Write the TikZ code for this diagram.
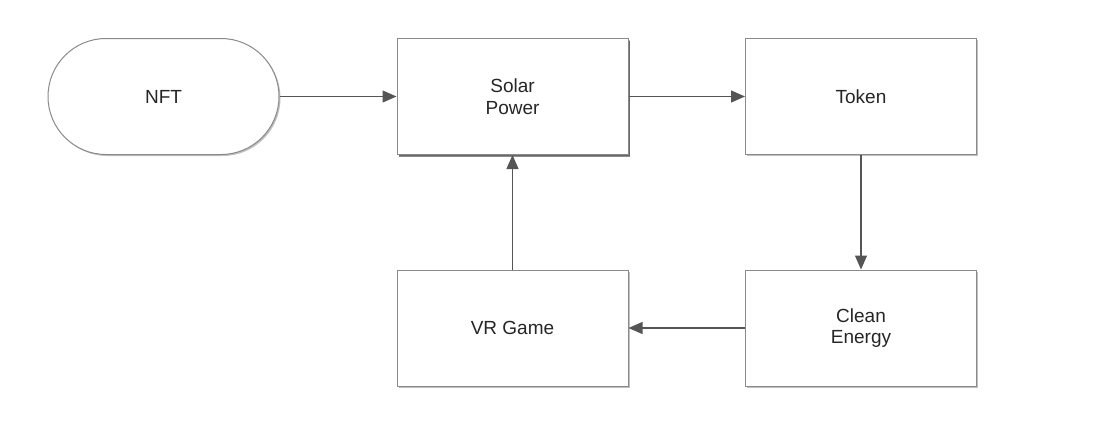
\documentclass[tikz,border=0pt]{standalone}
\usepackage{fontspec}
\setmainfont{Liberation Sans}
\usetikzlibrary{arrows.meta,shadows}
\definecolor{edgegray}{HTML}{8A8A8A}
\definecolor{arrowgray}{HTML}{555555}
\tikzset{
  box/.style={draw=edgegray,line width=1pt,fill=white,minimum width=231pt,minimum height=116pt,
    align=center,font=\fontsize{19}{21.5}\selectfont,text=black!85,
    drop shadow={shadow xshift=1.5pt,shadow yshift=-1.5pt,opacity=0.25,fill=black}},
  flow/.style={draw=arrowgray,line width=1.2pt,-{Triangle[length=14pt,width=12pt]}}
}
\begin{document}
\begin{tikzpicture}[x=1pt,y=-1pt]
	\useasboundingbox[fill=white] (0,0) rectangle (1110,442);
	\node[box,rounded corners=58pt] (nft) at (163.5,96.5){NFT};
	\node[box,drop shadow={shadow xshift=2pt,shadow yshift=-2.5pt,opacity=0.45,fill=black}] (solar) at (512.5,96.5){Solar\\Power};
	\node[box] (token) at (861,96.5){Token};
	\node[box] (clean) at (861,328){Clean\\Energy};
	\node[box] (vr) at (512.5,328){VR Game};
	\draw[flow] (nft)--(solar);
	\draw[flow] (solar)--(token);
	\draw[flow] (token)--(clean);
	\draw[flow] (clean)--(vr);
	\draw[flow] (vr)--(solar);
\end{tikzpicture}
\end{document}
